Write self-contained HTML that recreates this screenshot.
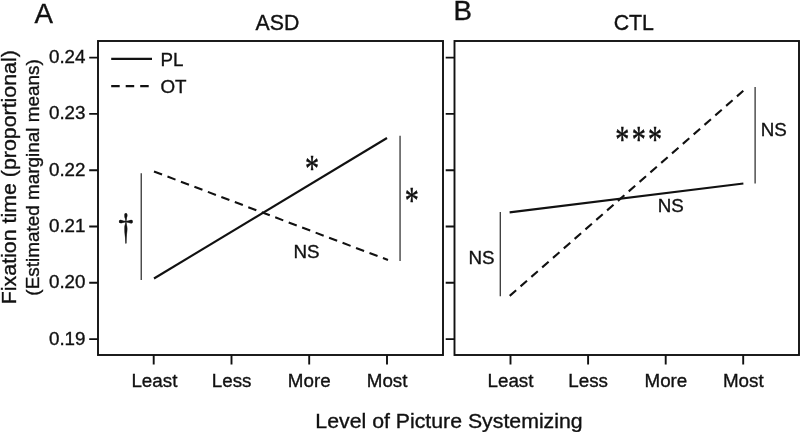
<!DOCTYPE html>
<html><head><meta charset="utf-8">
<style>
html,body{margin:0;padding:0;background:#fff;}
body{width:800px;height:432px;overflow:hidden;}
svg{display:block;}
text{font-family:"Liberation Sans",Arial,sans-serif;fill:#111;stroke:#111;stroke-width:0.35px;}
.t18{font-size:18.8px;}
.dag{font-family:"Noto Serif CJK SC","Liberation Serif",serif;stroke:#111;stroke-width:0.5px;}
.serif{stroke:#111;stroke-width:0.5px;font-family:"Liberation Serif","DejaVu Serif",serif;}
</style></head><body>
<svg width="800" height="432" viewBox="0 0 800 432">
<rect width="800" height="432" fill="#fff"/>
<!-- panel letters -->
<text x="34.5" y="22.9" font-size="27.7">A</text>
<text x="453.5" y="19.9" font-size="27.7">B</text>
<text x="277.4" y="29.5" font-size="21.3" text-anchor="middle">ASD</text>
<text x="633.8" y="29.5" font-size="21.3" text-anchor="middle">CTL</text>
<!-- y labels -->
<text transform="translate(16.3,177.2) rotate(-90)" font-size="20.6" textLength="254" lengthAdjust="spacingAndGlyphs" text-anchor="middle">Fixation time (proportional)</text>
<text transform="translate(38.5,177.4) rotate(-90)" font-size="18.8" textLength="236.5" lengthAdjust="spacingAndGlyphs" text-anchor="middle">(Estimated marginal means)</text>
<!-- x label -->
<text x="449" y="427.5" font-size="20.7" textLength="267.3" lengthAdjust="spacingAndGlyphs" text-anchor="middle">Level of Picture Systemizing</text>
<!-- frames -->
<g fill="none" stroke="#111" stroke-width="1.9">
<rect x="98" y="41" width="345" height="314"/>
<rect x="454.5" y="41" width="344.5" height="314"/>
</g>
<!-- ticks -->
<g stroke="#111" stroke-width="1.9">
<path d="M89.2 57.6H98M89.2 113.9H98M89.2 170.2H98M89.2 226.5H98M89.2 282.8H98M89.2 339.1H98"/>
<path d="M445.7 57.6H454.5M445.7 113.9H454.5M445.7 170.2H454.5M445.7 226.5H454.5M445.7 282.8H454.5M445.7 339.1H454.5"/>
<path d="M153.7 355V364.6M231.5 355V364.6M309.2 355V364.6M387 355V364.6"/>
<path d="M510.5 355V364.6M588.1 355V364.6M665.7 355V364.6M743.2 355V364.6"/>
</g>
<!-- y tick labels -->
<g class="t18" text-anchor="end">
<text x="85.5" y="63.1">0.24</text>
<text x="85.5" y="119.4">0.23</text>
<text x="85.5" y="175.7">0.22</text>
<text x="85.5" y="232.0">0.21</text>
<text x="85.5" y="288.3">0.20</text>
<text x="85.5" y="344.6">0.19</text>
</g>
<!-- x tick labels -->
<g class="t18" text-anchor="middle">
<text x="154.4" y="386.5">Least</text>
<text x="231.6" y="386.5">Less</text>
<text x="309.2" y="386.5">More</text>
<text x="387.1" y="386.5">Most</text>
<text x="510.5" y="386.5">Least</text>
<text x="588.1" y="386.5">Less</text>
<text x="665.9" y="386.5">More</text>
<text x="743.3" y="386.5">Most</text>
</g>
<!-- legend -->
<g stroke="#111" stroke-width="2.2" fill="none">
<path d="M111.2 58.9H152"/>
<path d="M111.2 86.1H152" stroke-dasharray="8.5 6"/>
</g>
<text x="160.5" y="65.5" class="t18">PL</text>
<text x="160.4" y="92.6" class="t18">OT</text>
<!-- data A -->
<g stroke="#111" stroke-width="2.1" fill="none">
<path d="M154 278.5L387 138"/>
<path d="M154 171.5L388 260" stroke-dasharray="8.6 5.8"/>
</g>
<g stroke="#111" stroke-width="1.1" fill="none">
<path d="M141.2 173.2V280"/>
<path d="M400.05 135.8V261"/>
</g>
<text transform="translate(125.9,241) scale(0.83,1)" font-size="34" class="dag" text-anchor="middle">†</text>
<text transform="translate(312,181) scale(0.76,1)" font-size="37" class="serif" text-anchor="middle">*</text>
<text transform="translate(411.7,213) scale(0.76,1)" font-size="37" class="serif" text-anchor="middle">*</text>
<text x="306.5" y="257.5" class="t18" text-anchor="middle">NS</text>
<!-- data B -->
<g stroke="#111" stroke-width="2.1" fill="none">
<path d="M509.6 212.4L743.4 183.5"/>
<path d="M509.7 295.9L743.3 90.8" stroke-dasharray="8.6 5.8"/>
</g>
<g stroke="#111" stroke-width="1.1" fill="none">
<path d="M500.25 212V296.3"/>
<path d="M755.1 87V183.5"/>
</g>
<text transform="translate(622.2,152) scale(0.76,1)" font-size="37" class="serif" text-anchor="middle">*</text>
<text transform="translate(638.7,152) scale(0.76,1)" font-size="37" class="serif" text-anchor="middle">*</text>
<text transform="translate(655.1,152) scale(0.76,1)" font-size="37" class="serif" text-anchor="middle">*</text>
<text x="670.8" y="212.1" class="t18" text-anchor="middle">NS</text>
<text x="773.7" y="135.6" class="t18" text-anchor="middle">NS</text>
<text x="481.5" y="263.6" class="t18" text-anchor="middle">NS</text>
</svg>
</body></html>
